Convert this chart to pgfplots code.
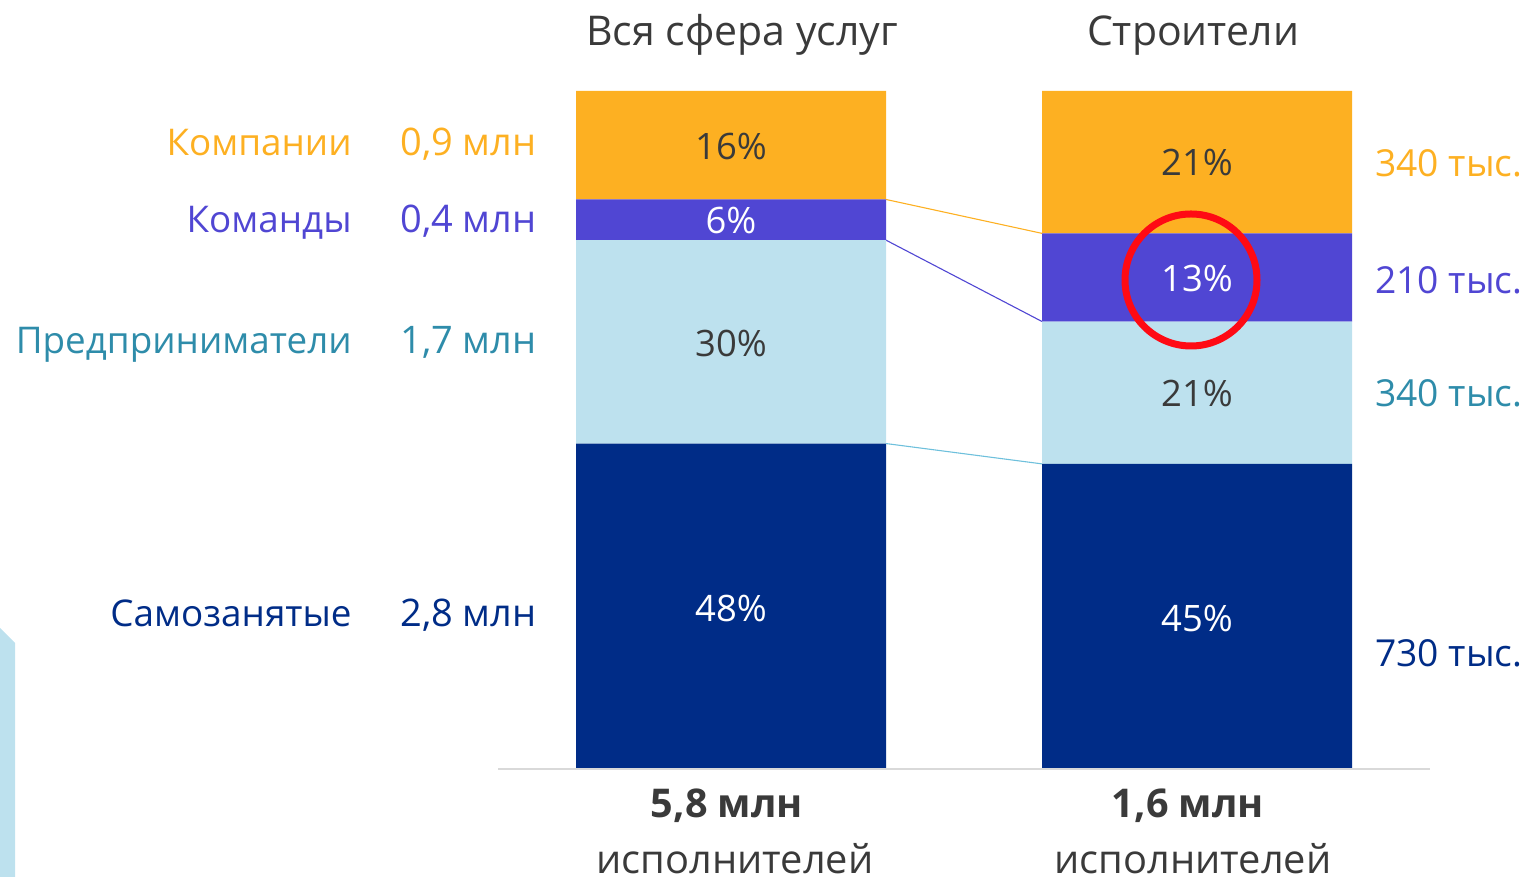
\documentclass[border=0pt]{standalone}
\usepackage{pgfplots}
\pgfplotsset{compat=1.18}
\usepackage{fontspec}
\setmainfont{Open Sans}
\definecolor{corange}{HTML}{FDB022}
\definecolor{cpurple}{HTML}{5046D3}
\definecolor{clight}{HTML}{BDE1EE}
\definecolor{cnavy}{HTML}{002C87}
\definecolor{cteal}{HTML}{2E8CAA}
\definecolor{cdark}{HTML}{3A3A3A}
\definecolor{cline}{HTML}{6EC0DC}
\definecolor{cred}{HTML}{FF0A14}
\definecolor{cgray}{HTML}{D9D9D9}
\newcommand\lab{\fontsize{18.4}{22}\selectfont}
\newcommand\val{\fontsize{19}{22}\selectfont}
\newcommand\rlab{\fontsize{18.6}{22}\selectfont}
\newcommand\pct{\fontsize{18.2}{22}\selectfont}
\newcommand\ttl{\fontsize{20.5}{25}\selectfont}
\newcommand\btm{\fontsize{19.8}{24}\selectfont\bfseries}
\newcommand\btmr{\fontsize{19.9}{24}\selectfont}
\begin{document}
\begin{tikzpicture}
\useasboundingbox (0,0) rectangle (763.5pt,438.5pt);
\clip (0,0) rectangle (763.5pt,438.5pt);
\begin{axis}[at={(0,0)}, anchor=south west, scale only axis,
  width=763.5pt, height=438.5pt,
  xmin=0, xmax=1527, ymin=-15.929, ymax=113.422,
  hide axis, clip=false, ybar stacked, bar width=310]
% decoration
\fill[clight] (axis cs:0,{(769-628)/6.78}) -- (axis cs:15,{(769-643)/6.78}) -- (axis cs:15,{(769-880)/6.78}) -- (axis cs:0,{(769-880)/6.78}) -- cycle;
% baseline
\draw[cgray, line width=1pt] (axis cs:498,0) -- (axis cs:1430,0);
% bars
\addplot[fill=cnavy, draw=none] coordinates {(731,48) (1197,45)};
\addplot[fill=clight, draw=none] coordinates {(731,30) (1197,21)};
\addplot[fill=cpurple, draw=none] coordinates {(731,6) (1197,13)};
\addplot[fill=corange, draw=none] coordinates {(731,16) (1197,21)};
% connectors
\draw[corange, line width=0.55pt] (axis cs:886,84) -- (axis cs:1042,79);
\draw[cpurple, line width=0.55pt] (axis cs:886,78) -- (axis cs:1042,66);
\draw[cline, line width=0.55pt] (axis cs:886,48) -- (axis cs:1042,45);
\end{axis}
\begin{scope}[x=0.5pt, y=-0.5pt, yshift=438.5pt]
% left labels
\node[inner sep=0pt, anchor=base east, text=corange, font=\lab] at (352,156) {Компании};
\node[inner sep=0pt, anchor=base east, text=cpurple, font=\lab] at (352,233) {Команды};
\node[inner sep=0pt, anchor=base east, text=cteal, font=\lab] at (352,354) {Предприниматели};
\node[inner sep=0pt, anchor=base east, text=cnavy, font=\lab] at (352,627) {Самозанятые};
\node[inner sep=0pt, anchor=base east, text=corange, font=\val] at (537,156) {0,9 млн};
\node[inner sep=0pt, anchor=base east, text=cpurple, font=\val] at (537,233) {0,4 млн};
\node[inner sep=0pt, anchor=base east, text=cteal, font=\val] at (537,354) {1,7 млн};
\node[inner sep=0pt, anchor=base east, text=cnavy, font=\val] at (537,627) {2,8 млн};
% right labels
\node[inner sep=0pt, anchor=base west, text=corange, font=\rlab] at (1375,177) {340 тыс.};
\node[inner sep=0pt, anchor=base west, text=cpurple, font=\rlab] at (1375,294) {210 тыс.};
\node[inner sep=0pt, anchor=base west, text=cteal, font=\rlab] at (1375,407) {340 тыс.};
\node[inner sep=0pt, anchor=base west, text=cnavy, font=\rlab] at (1375,667) {730 тыс.};
% percentages
\node[anchor=base, text=cdark, font=\pct] at (731,160) {16\%};
\node[anchor=base, text=white, font=\pct] at (731,234) {6\%};
\node[anchor=base, text=cdark, font=\pct] at (731,357) {30\%};
\node[anchor=base, text=white, font=\pct] at (731,622) {48\%};
\node[anchor=base, text=cdark, font=\pct] at (1197,176) {21\%};
\node[anchor=base, text=white, font=\pct] at (1197,292) {13\%};
\node[anchor=base, text=cdark, font=\pct] at (1197,407) {21\%};
\node[anchor=base, text=white, font=\pct] at (1197,632) {45\%};
% red circle
\draw[cred, line width=3.5pt] (1191,280) circle[radius=33pt];
% titles
\node[anchor=base, text=cdark, font=\ttl] at (742,46) {Вся сфера услуг};
\node[anchor=base, text=cdark, font=\ttl] at (1193,46) {Строители};
% bottom
\node[anchor=base, text=cdark, font=\btm] at (727,818) {5,8 млн};
\node[anchor=base, text=cdark, font=\btmr] at (735,874) {исполнителей};
\node[anchor=base, text=cdark, font=\btm] at (1188,818) {1,6 млн};
\node[anchor=base, text=cdark, font=\btmr] at (1193,874) {исполнителей};
\end{scope}
\end{tikzpicture}
\end{document}
